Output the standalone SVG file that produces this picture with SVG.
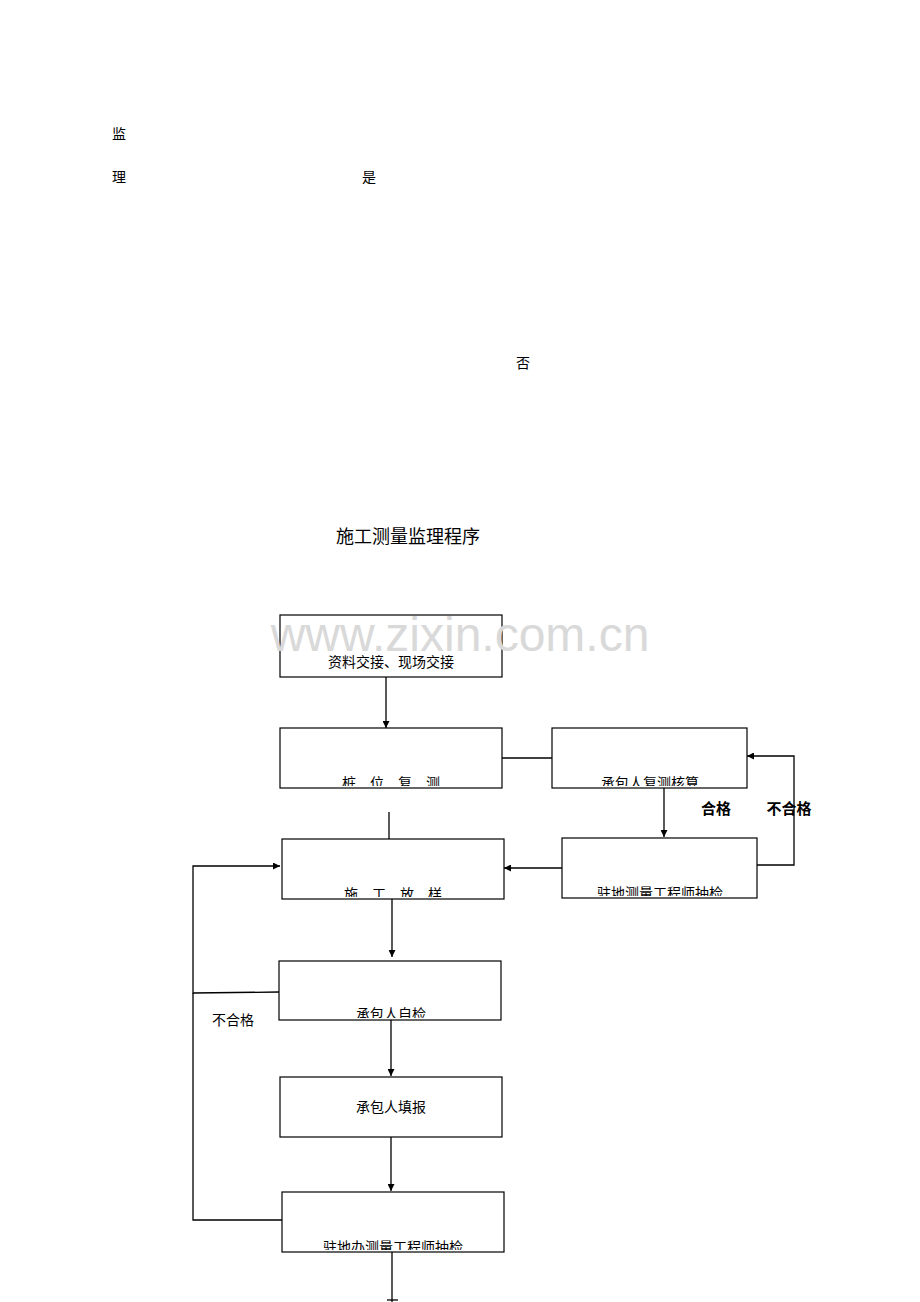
<svg xmlns="http://www.w3.org/2000/svg" width="920" height="1302" viewBox="0 0 920 1302">
<style>
.b{fill:#fff;stroke:#000;stroke-width:1.2}
.s{font-family:"Noto Sans CJK SC",sans-serif;font-size:14px;fill:#000}
.h{font-family:"Noto Sans CJK SC",sans-serif;fill:#000}
.w{font-family:"Liberation Sans",sans-serif;font-size:48px;fill:#d9d9d9}
.l{stroke:#000;stroke-width:1.3;fill:none}
</style>
<defs>
<marker id="a" viewBox="0 0 10 10" refX="10" refY="5" markerWidth="7" markerHeight="7" orient="auto" markerUnits="userSpaceOnUse"><path d="M0,0L10,5L0,10z"/></marker>
<clipPath id="c2"><rect x="280" y="728" width="222" height="58"/></clipPath>
<clipPath id="c3"><rect x="552" y="728" width="195" height="58"/></clipPath>
<clipPath id="c4"><rect x="562" y="838" width="195" height="58"/></clipPath>
<clipPath id="c5"><rect x="282" y="839" width="222" height="58"/></clipPath>
<clipPath id="c6"><rect x="279" y="961" width="222" height="57"/></clipPath>
<clipPath id="c8"><rect x="282" y="1192" width="222" height="58"/></clipPath>
</defs>
<rect width="920" height="1302" fill="#fff"/>
<text class="s" x="112" y="139" font-size="16">监</text>
<text class="s" x="112" y="182" font-size="16">理</text>
<text class="s" x="362" y="182" font-size="16">是</text>
<text class="s" x="516" y="368" font-size="16">否</text>
<text class="h" x="408" y="543" font-size="18" text-anchor="middle">施工测量监理程序</text>
<g id="connectors">
<line class="l" x1="386" y1="677" x2="386" y2="728" marker-end="url(#a)"/>
<line class="l" x1="502" y1="758" x2="552" y2="758"/>
<line class="l" x1="664" y1="788" x2="664" y2="837" marker-end="url(#a)"/>
<polyline class="l" points="757,865 794,865 794,756 747,756" marker-end="url(#a)"/>
<line class="l" x1="562" y1="868" x2="504" y2="868" marker-end="url(#a)"/>
<line class="l" x1="389" y1="812" x2="389" y2="839"/>
<line class="l" x1="392" y1="899" x2="392" y2="957" marker-end="url(#a)"/>
<polyline class="l" points="279,992 193,993 193,866 280,866" marker-end="url(#a)"/>
<polyline class="l" points="282,1220 193,1220 193,993"/>
<line class="l" x1="391" y1="1020" x2="391" y2="1076" marker-end="url(#a)"/>
<line class="l" x1="391" y1="1137" x2="391" y2="1191" marker-end="url(#a)"/>
<line class="l" x1="392" y1="1252" x2="392" y2="1302"/>
<line class="l" x1="387" y1="1300" x2="398" y2="1300"/>
</g>
<text class="h" x="716" y="814" font-size="15" font-weight="bold" text-anchor="middle">合格</text>
<text class="h" x="789" y="814" font-size="15" font-weight="bold" text-anchor="middle">不合格</text>
<text class="s" x="233" y="1025" font-size="16" text-anchor="middle">不合格</text>
<g id="n1"><rect class="b" x="280" y="615" width="222" height="62"/><text class="s" x="391" y="667" text-anchor="middle">资料交接、现场交接</text></g>
<g id="n2"><rect class="b" x="280" y="728" width="222" height="60"/><text class="s" x="391" y="788" text-anchor="middle" clip-path="url(#c2)">桩　位　复　测</text></g>
<g id="n3"><rect class="b" x="552" y="728" width="195" height="60"/><text class="s" x="650" y="788" text-anchor="middle" clip-path="url(#c3)">承包人复测核算</text></g>
<g id="n4"><rect class="b" x="562" y="838" width="195" height="60"/><text class="s" x="660" y="898" text-anchor="middle" clip-path="url(#c4)">驻地测量工程师抽检</text></g>
<g id="n5"><rect class="b" x="282" y="839" width="222" height="60"/><text class="s" x="393" y="899" text-anchor="middle" clip-path="url(#c5)">施　工　放　样</text></g>
<g id="n6"><rect class="b" x="279" y="961" width="222" height="59"/><text class="s" x="391" y="1019" text-anchor="middle" clip-path="url(#c6)">承包人自检</text></g>
<g id="n7"><rect class="b" x="280" y="1077" width="222" height="60"/><text class="s" x="391" y="1112" font-size="16" text-anchor="middle">承包人填报</text></g>
<g id="n8"><rect class="b" x="282" y="1192" width="222" height="60"/><text class="s" x="393" y="1252" text-anchor="middle" clip-path="url(#c8)">驻地办测量工程师抽检</text></g>
<text class="w" x="460" y="651" text-anchor="middle">www.zixin.com.cn</text>
</svg>
